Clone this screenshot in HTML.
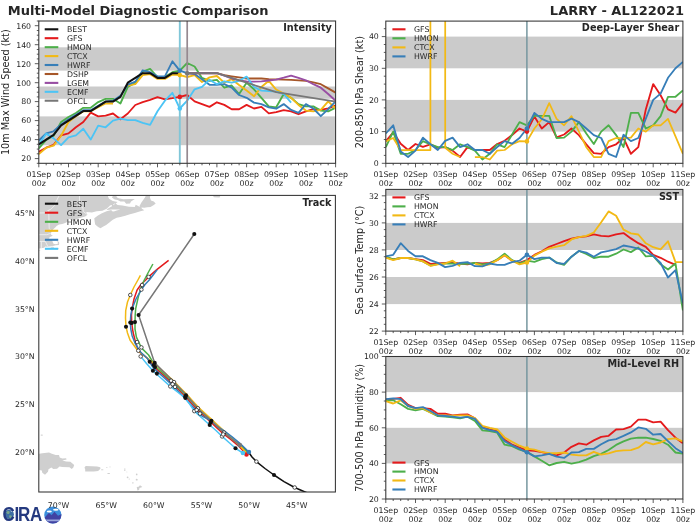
<!DOCTYPE html>
<html lang="en"><head><meta charset="utf-8"><title>Multi-Model Diagnostic Comparison - LARRY AL122021</title>
<style>html,body{margin:0;padding:0;background:#fff}svg{display:block}</style></head><body>
<svg width="700" height="525" viewBox="0 0 700 525" font-family='"DejaVu Sans", "Liberation Sans", sans-serif'>
<rect width="700" height="525" fill="#fff"/>
<text x="7.8" y="14.9" font-size="13.0" font-weight="bold" fill="#262626">Multi-Model Diagnostic Comparison</text>
<text x="684" y="14.9" font-size="13.0" font-weight="bold" text-anchor="end" fill="#262626">LARRY - AL122021</text>
<clipPath id="cI"><rect x="38.8" y="21" width="296.8" height="142.3"/></clipPath>
<rect x="38.8" y="116.4" width="296.8" height="28.8" fill="#cbcbcb"/>
<rect x="38.8" y="86.5" width="296.8" height="12.3" fill="#cbcbcb"/>
<rect x="38.8" y="47.3" width="296.8" height="23.3" fill="#cbcbcb"/>
<path d="M38.8 151.9L46.2 147.7L53.6 144.9L61.1 135.3L68.5 133.4L75.9 127.3L83.3 122L90.7 112.7L98.2 116.3L105.6 115.6L113 113.5L120.4 119.2L127.8 113.5L135.3 105L142.7 102.1L150.1 99.9L157.5 97.1L164.9 99.3L172.4 98.2L179.8 96.9L187.2 95L194.6 101.4L202 104.2L209.5 106.9L216.9 102.3L224.3 104.9L231.7 109.2L239.1 109.2L246.6 104.9L254 108.5L261.4 106.9L268.8 113.4L276.2 112.1L283.7 110.2L291.1 111.3L298.5 114.2L305.9 111.3L313.3 109.2L320.8 109.9L328.2 108.3L335.6 105.4" fill="none" stroke="#e41a1c" stroke-width="1.85" stroke-linejoin="round" stroke-linecap="butt" clip-path="url(#cI)"/>
<path d="M38.8 148.4L46.2 139.9L53.6 135.8L61.1 122L68.5 117L75.9 113L83.3 107.8L90.7 107.8L98.2 102.1L105.6 98.8L113 98.8L120.4 103.5L127.8 86.9L135.3 82.7L142.7 71.7L150.1 68.9L157.5 77L164.9 77L172.4 72.2L179.8 70.6L187.2 63L194.6 66.5L202 77.9L209.5 80.8L216.9 79.8L224.3 87.7L231.7 85.5L239.1 94L246.6 82.7L254 89.3L261.4 97.8L268.8 106.4L276.2 107.3L283.7 94L291.1 97.8L298.5 104.1L305.9 106.4L313.3 106.4L320.8 110.6L328.2 111.3L335.6 107.7" fill="none" stroke="#4daf4a" stroke-width="1.85" stroke-linejoin="round" stroke-linecap="butt" clip-path="url(#cI)"/>
<path d="M38.8 154.1L46.2 147.7L53.6 145.6L61.1 135.8L68.5 122L75.9 116.3L83.3 111.3L90.7 111.3L98.2 107.3L105.6 103.5L113 103.5M127.8 85.5L135.3 84.2L142.7 75.1L150.1 74.1L157.5 78.9L164.9 78.9L172.4 74.5L179.8 75.1L187.2 77L194.6 75.1L202 82L209.5 77.4L216.9 76L224.3 82.7L231.7 79.2L239.1 85L246.6 90.6L254 96.3L261.4 87L268.8 80.8L276.2 89.6L283.7 93.5L291.1 97.8L298.5 104.9L305.9 110.6L313.3 111.3L320.8 109.9L328.2 101.3L335.6 108.5" fill="none" stroke="#f2b915" stroke-width="1.85" stroke-linejoin="round" stroke-linecap="butt" clip-path="url(#cI)"/>
<path d="M38.8 140.5L46.2 133.4L53.6 131.3L61.1 124.4L68.5 119.2L75.9 114.9L83.3 110.2L90.7 110.2L98.2 105.9L105.6 101.6L113 100.7L120.4 95.9L127.8 84.6L135.3 81.7L142.7 70.3L150.1 72.2L157.5 76.3L164.9 76.3L172.4 61.3L179.8 70.6L187.2 73.2L194.6 74.1L202 79.3L209.5 84.8L216.9 84.8L224.3 84.2L231.7 87.7L239.1 95L246.6 97.8L254 102.6L261.4 104.1L268.8 107.3L276.2 108.7L283.7 104.1L291.1 109.9L298.5 112.8L305.9 104.1L313.3 108.5L320.8 116.2L328.2 109.2L335.6 101.3" fill="none" stroke="#377eb8" stroke-width="1.85" stroke-linejoin="round" stroke-linecap="butt" clip-path="url(#cI)"/>
<path d="M187.2 73.2L194.6 73.2L202 73.2L209.5 73.2L216.9 73.2L224.3 75.1L231.7 76.3L239.1 77.4L246.6 78.5L254 78.5L261.4 78.5L268.8 79.1L276.2 79.4L283.7 79.6L291.1 79.8L298.5 80.3L305.9 80.8L313.3 82.3L320.8 84.2L328.2 88.4L335.6 92.7" fill="none" stroke="#a65628" stroke-width="1.85" stroke-linejoin="round" stroke-linecap="butt" clip-path="url(#cI)"/>
<path d="M187.2 73.2L194.6 73.2L202 73.2L209.5 73.2L216.9 73.2L224.3 75.6L231.7 78.5L239.1 80.3L246.6 81.3L254 81.7L261.4 81.3L268.8 80.5L276.2 79.6L283.7 77.7L291.1 75.6L298.5 77.9L305.9 80.3L313.3 84.2L320.8 87.7L328.2 94L335.6 100.7" fill="none" stroke="#984ea3" stroke-width="1.85" stroke-linejoin="round" stroke-linecap="butt" clip-path="url(#cI)"/>
<path d="M38.8 145.1L46.2 133.6L53.6 138.4L61.1 145.1L68.5 137.3L75.9 135.4L83.3 128.7L90.7 139.6L98.2 125.6L105.6 127.3L113 120.6L120.4 118.7L127.8 120.1L135.3 120.1L142.7 122.8L150.1 124.9L157.5 111.3L164.9 100.7L172.4 92.8L179.8 108.5L187.2 100.7L194.6 89.3L202 86.9L209.5 79.8L216.9 84.2L224.3 81.3L231.7 82.7L239.1 80.8L246.6 76.6L254 87L261.4 90.6L268.8 91.2L276.2 91.7L283.7 94L291.1 102.6" fill="none" stroke="#4cc4f5" stroke-width="1.85" stroke-linejoin="round" stroke-linecap="butt" clip-path="url(#cI)"/>
<path d="M38.8 144.3L46.2 139.6L53.6 134.8L61.1 125.4L68.5 120.6L75.9 115.9L83.3 111.1L90.7 111.1L98.2 106.4L105.6 101.6L113 101.6L120.4 96.9L127.8 82.7L135.3 77.9L142.7 73.2L150.1 73.2L157.5 77.9L164.9 77.9L172.4 73.2L179.8 73.2" fill="none" stroke="#111111" stroke-width="2.0" stroke-linejoin="round" stroke-linecap="butt" clip-path="url(#cI)"/>
<path d="M187.2 73.2L202 73.2L216.9 73.2L231.7 77.9L246.6 82.7L261.4 87.4L276.2 92.2L305.9 96.9L335.6 101.6" fill="none" stroke="#777777" stroke-width="1.75" stroke-linejoin="round"/>
<path d="M179.8 21V163.3" stroke="#80c6d8" stroke-width="1.9"/>
<path d="M187.2 21V163.3" stroke="#958990" stroke-width="1.7"/>
<circle cx="179.8" cy="96.9" r="2.3" fill="#e41a1c"/>
<circle cx="179.8" cy="75.1" r="2.3" fill="#f2b915"/>
<circle cx="179.8" cy="70.6" r="2.3" fill="#377eb8"/>
<circle cx="179.8" cy="108.5" r="2.3" fill="#4cc4f5"/>
<circle cx="187.2" cy="73.2" r="2.3" fill="#777777"/>
<rect x="38.8" y="21" width="296.8" height="142.3" fill="none" stroke="#333333" stroke-width="1.05"/>
<path d="M38.8 163.3v4.0M46.2 163.3v2.0M53.6 163.3v2.0M61.1 163.3v2.0M68.5 163.3v4.0M75.9 163.3v2.0M83.3 163.3v2.0M90.7 163.3v2.0M98.2 163.3v4.0M105.6 163.3v2.0M113 163.3v2.0M120.4 163.3v2.0M127.8 163.3v4.0M135.3 163.3v2.0M142.7 163.3v2.0M150.1 163.3v2.0M157.5 163.3v4.0M164.9 163.3v2.0M172.4 163.3v2.0M179.8 163.3v2.0M187.2 163.3v4.0M194.6 163.3v2.0M202 163.3v2.0M209.5 163.3v2.0M216.9 163.3v4.0M224.3 163.3v2.0M231.7 163.3v2.0M239.1 163.3v2.0M246.6 163.3v4.0M254 163.3v2.0M261.4 163.3v2.0M268.8 163.3v2.0M276.2 163.3v4.0M283.7 163.3v2.0M291.1 163.3v2.0M298.5 163.3v2.0M305.9 163.3v4.0M313.3 163.3v2.0M320.8 163.3v2.0M328.2 163.3v2.0M335.6 163.3v4.0M38.8 158.6h-4M38.8 139.6h-4M38.8 120.6h-4M38.8 101.6h-4M38.8 82.7h-4M38.8 63.7h-4M38.8 44.7h-4M38.8 25.7h-4M38.8 163.3h-2M38.8 153.8h-2M38.8 149.1h-2M38.8 144.3h-2M38.8 134.8h-2M38.8 130.1h-2M38.8 125.4h-2M38.8 115.9h-2M38.8 111.1h-2M38.8 106.4h-2M38.8 96.9h-2M38.8 92.2h-2M38.8 87.4h-2M38.8 77.9h-2M38.8 73.2h-2M38.8 68.4h-2M38.8 58.9h-2M38.8 54.2h-2M38.8 49.5h-2M38.8 40h-2M38.8 35.2h-2M38.8 30.5h-2M38.8 21h-2" stroke="#333333" stroke-width="0.8" fill="none"/>
<g font-size="7.8" fill="#262626">
<g text-anchor="middle">
<text x="38.8" y="176.9">01Sep</text><text x="38.8" y="186">00z</text>
<text x="68.5" y="176.9">02Sep</text><text x="68.5" y="186">00z</text>
<text x="98.2" y="176.9">03Sep</text><text x="98.2" y="186">00z</text>
<text x="127.8" y="176.9">04Sep</text><text x="127.8" y="186">00z</text>
<text x="157.5" y="176.9">05Sep</text><text x="157.5" y="186">00z</text>
<text x="187.2" y="176.9">06Sep</text><text x="187.2" y="186">00z</text>
<text x="216.9" y="176.9">07Sep</text><text x="216.9" y="186">00z</text>
<text x="246.6" y="176.9">08Sep</text><text x="246.6" y="186">00z</text>
<text x="276.2" y="176.9">09Sep</text><text x="276.2" y="186">00z</text>
<text x="305.9" y="176.9">10Sep</text><text x="305.9" y="186">00z</text>
<text x="335.6" y="176.9">11Sep</text><text x="335.6" y="186">00z</text>
</g>
<g text-anchor="end">
<text x="31.1" y="161.4">20</text>
<text x="31.1" y="142.4">40</text>
<text x="31.1" y="123.4">60</text>
<text x="31.1" y="104.4">80</text>
<text x="31.1" y="85.5">100</text>
<text x="31.1" y="66.5">120</text>
<text x="31.1" y="47.5">140</text>
<text x="31.1" y="28.5">160</text>
</g></g>
<text transform="translate(8.7 92.2) rotate(-90)" text-anchor="middle" font-size="9.7" fill="#262626">10m Max Wind Speed (kt)</text>
<text x="331.9" y="31.2" text-anchor="end" font-size="9.7" font-weight="bold" fill="#262626">Intensity</text>
<g font-size="7.8" fill="#262626">
<path d="M44.7 29.3H58.3" stroke="#111111" stroke-width="2.1"/>
<text x="67" y="32.1">BEST</text>
<path d="M44.7 38.2H58.3" stroke="#e41a1c" stroke-width="2.1"/>
<text x="67" y="41.1">GFS</text>
<path d="M44.7 47.2H58.3" stroke="#4daf4a" stroke-width="2.1"/>
<text x="67" y="50">HMON</text>
<path d="M44.7 56.1H58.3" stroke="#f2b915" stroke-width="2.1"/>
<text x="67" y="58.9">CTCX</text>
<path d="M44.7 65H58.3" stroke="#377eb8" stroke-width="2.1"/>
<text x="67" y="67.9">HWRF</text>
<path d="M44.7 74H58.3" stroke="#a65628" stroke-width="2.1"/>
<text x="67" y="76.8">DSHP</text>
<path d="M44.7 82.9H58.3" stroke="#984ea3" stroke-width="2.1"/>
<text x="67" y="85.7">LGEM</text>
<path d="M44.7 91.8H58.3" stroke="#4cc4f5" stroke-width="2.1"/>
<text x="67" y="94.7">ECMF</text>
<path d="M44.7 100.7H58.3" stroke="#777777" stroke-width="2.1"/>
<text x="67" y="103.6">OFCL</text>
</g>
<clipPath id="cS"><rect x="385.8" y="21.1" width="297.1" height="142.2"/></clipPath>
<rect x="385.8" y="99.9" width="297.1" height="31.7" fill="#cbcbcb"/>
<rect x="385.8" y="36.6" width="297.1" height="31.7" fill="#cbcbcb"/>
<path d="M385.8 141.4L393.2 132.3L400.7 143.7L408.1 150L415.5 144L422.9 146.8L430.4 144.3L437.8 147.8L445.2 147.1L452.6 150.6L460.1 157L467.5 147.1L474.9 150L482.4 150L489.8 150L497.2 144L504.6 140.8L512.1 135.1L519.5 128.5L526.9 131.6L534.4 116.4L541.8 128.5L549.2 122.1L556.6 137.3L564.1 134.5L571.5 128.5L578.9 135.1L586.3 144.3L593.8 153.2L601.2 153.8L608.6 147.1L616.1 144.3L623.5 138L630.9 153.8L638.3 147.1L645.8 109.4L653.2 84.1L660.6 95.2L668 109.4L675.5 112.6L682.9 103.1" fill="none" stroke="#e41a1c" stroke-width="1.85" stroke-linejoin="round" stroke-linecap="butt" clip-path="url(#cS)"/>
<path d="M385.8 147.1L393.2 131.6L400.7 153.8L408.1 153.8L415.5 150L422.9 141.1L430.4 144.3L437.8 147.1L445.2 147.1L452.6 150L460.1 144.3L467.5 147.1L474.9 150.6L482.4 159.5L489.8 153.8L497.2 144.3L504.6 147.1L512.1 134.5L519.5 122.1L526.9 125.3L534.4 115.8L541.8 115.8L549.2 115.8L556.6 138L564.1 137.6L571.5 131.6L578.9 122.1L586.3 133.5L593.8 144L601.2 131.6L608.6 125.3L616.1 135.1L623.5 147.1L630.9 112.9L638.3 112.9L645.8 128.5L653.2 125.3L660.6 116.1L668 96.8L675.5 96.8L682.9 90.4" fill="none" stroke="#4daf4a" stroke-width="1.85" stroke-linejoin="round" stroke-linecap="butt" clip-path="url(#cS)"/>
<path d="M385.8 141.4L393.2 138L400.7 150L408.1 150L415.5 150L422.9 150L430.4 150V16.1M445.2 16.1L445.2 147.8L452.6 153.8L460.1 157M474.9 157L482.4 157L489.8 159.5L497.2 150.6L504.6 150L512.1 144.3L519.5 141.1L526.9 141.4L534.4 128.5L541.8 119.3L549.2 103.1L556.6 118.9L564.1 125.3L571.5 116.1L578.9 131.6L586.3 147.1L593.8 157L601.2 157L608.6 141.1L616.1 138L623.5 138L630.9 137.6L638.3 128.5L645.8 131.6L653.2 125.3L660.6 125.3L668 118.9L675.5 136.4L682.9 153.8" fill="none" stroke="#f2b915" stroke-width="1.75" stroke-linejoin="round" clip-path="url(#cS)"/>
<path d="M385.8 133.5L393.2 125.3L400.7 151.6L408.1 157L415.5 150.6L422.9 137.6L430.4 144.3L437.8 150L445.2 140.8L452.6 137.6L460.1 147.1L467.5 144.3L474.9 150L482.4 150L489.8 153.8L497.2 147.1L504.6 141.1L512.1 143.7L519.5 138L526.9 128.5L534.4 112.9L541.8 118.9L549.2 122.1L556.6 122.1L564.1 122.1L571.5 118.6L578.9 122.1L586.3 128.5L593.8 135.1L601.2 138L608.6 153.8L616.1 157L623.5 134.8L630.9 141.1L638.3 138L645.8 118.6L653.2 99.9L660.6 93.6L668 77.8L675.5 68.3L682.9 61.9" fill="none" stroke="#377eb8" stroke-width="1.85" stroke-linejoin="round" stroke-linecap="butt" clip-path="url(#cS)"/>
<path d="M526.9 21.1V163.3" stroke="#76979f" stroke-width="1.5"/>
<circle cx="526.9" cy="131.6" r="2.3" fill="#e41a1c"/>
<circle cx="526.9" cy="141.4" r="2.3" fill="#f2b915"/>
<circle cx="526.9" cy="128.5" r="2.3" fill="#377eb8"/>
<rect x="385.8" y="21.1" width="297.1" height="142.2" fill="none" stroke="#333333" stroke-width="1.05"/>
<path d="M385.8 163.3v4.0M393.2 163.3v2.0M400.7 163.3v2.0M408.1 163.3v2.0M415.5 163.3v4.0M422.9 163.3v2.0M430.4 163.3v2.0M437.8 163.3v2.0M445.2 163.3v4.0M452.6 163.3v2.0M460.1 163.3v2.0M467.5 163.3v2.0M474.9 163.3v4.0M482.4 163.3v2.0M489.8 163.3v2.0M497.2 163.3v2.0M504.6 163.3v4.0M512.1 163.3v2.0M519.5 163.3v2.0M526.9 163.3v2.0M534.4 163.3v4.0M541.8 163.3v2.0M549.2 163.3v2.0M556.6 163.3v2.0M564.1 163.3v4.0M571.5 163.3v2.0M578.9 163.3v2.0M586.3 163.3v2.0M593.8 163.3v4.0M601.2 163.3v2.0M608.6 163.3v2.0M616.1 163.3v2.0M623.5 163.3v4.0M630.9 163.3v2.0M638.3 163.3v2.0M645.8 163.3v2.0M653.2 163.3v4.0M660.6 163.3v2.0M668 163.3v2.0M675.5 163.3v2.0M682.9 163.3v4.0M385.8 163.3h-4M385.8 131.6h-4M385.8 99.9h-4M385.8 68.3h-4M385.8 36.6h-4M385.8 155.4h-2M385.8 147.5h-2M385.8 139.5h-2M385.8 123.7h-2M385.8 115.8h-2M385.8 107.9h-2M385.8 92h-2M385.8 84.1h-2M385.8 76.2h-2M385.8 60.3h-2M385.8 52.4h-2M385.8 44.5h-2M385.8 28.7h-2" stroke="#333333" stroke-width="0.8" fill="none"/>
<g font-size="7.8" fill="#262626">
<g text-anchor="middle">
<text x="385.8" y="176.9">01Sep</text><text x="385.8" y="186">00z</text>
<text x="415.5" y="176.9">02Sep</text><text x="415.5" y="186">00z</text>
<text x="445.2" y="176.9">03Sep</text><text x="445.2" y="186">00z</text>
<text x="474.9" y="176.9">04Sep</text><text x="474.9" y="186">00z</text>
<text x="504.6" y="176.9">05Sep</text><text x="504.6" y="186">00z</text>
<text x="534.4" y="176.9">06Sep</text><text x="534.4" y="186">00z</text>
<text x="564.1" y="176.9">07Sep</text><text x="564.1" y="186">00z</text>
<text x="593.8" y="176.9">08Sep</text><text x="593.8" y="186">00z</text>
<text x="623.5" y="176.9">09Sep</text><text x="623.5" y="186">00z</text>
<text x="653.2" y="176.9">10Sep</text><text x="653.2" y="186">00z</text>
<text x="682.9" y="176.9">11Sep</text><text x="682.9" y="186">00z</text>
</g>
<g text-anchor="end">
<text x="378.8" y="166.1">0</text>
<text x="378.8" y="134.4">10</text>
<text x="378.8" y="102.7">20</text>
<text x="378.8" y="71.1">30</text>
<text x="378.8" y="39.4">40</text>
</g></g>
<text transform="translate(362.5 92.2) rotate(-90)" text-anchor="middle" font-size="9.7" fill="#262626">200-850 hPa Shear (kt)</text>
<text x="679.2" y="31.3" text-anchor="end" font-size="9.7" font-weight="bold" fill="#262626">Deep-Layer Shear</text>
<g font-size="7.8" fill="#262626">
<path d="M392.4 29.3H405.5" stroke="#e41a1c" stroke-width="2.1"/>
<text x="414" y="32.1">GFS</text>
<path d="M392.4 38.3H405.5" stroke="#4daf4a" stroke-width="2.1"/>
<text x="414" y="41.2">HMON</text>
<path d="M392.4 47.4H405.5" stroke="#f2b915" stroke-width="2.1"/>
<text x="414" y="50.2">CTCX</text>
<path d="M392.4 56.4H405.5" stroke="#377eb8" stroke-width="2.1"/>
<text x="414" y="59.2">HWRF</text>
</g>
<clipPath id="cT"><rect x="385.8" y="189.4" width="297.1" height="141.7"/></clipPath>
<rect x="385.8" y="277" width="297.1" height="27.1" fill="#cbcbcb"/>
<rect x="385.8" y="222.9" width="297.1" height="27.1" fill="#cbcbcb"/>
<rect x="385.8" y="189.4" width="297.1" height="6.4" fill="#cbcbcb"/>
<path d="M385.8 257.4L393.2 259.4L400.7 258L408.1 258L415.5 259.1L422.9 260.1L430.4 263.9L437.8 263.5L445.2 262.9L452.6 262.5L460.1 263.6L467.5 264.3L474.9 262.9L482.4 263.3L489.8 262.9L497.2 260.1L504.6 255.3L512.1 260.7L519.5 262.9L526.9 260.1L534.4 254.9L541.8 251.3L549.2 246.9L556.6 244L564.1 241.1L571.5 238.7L578.9 237.2L586.3 236.3L593.8 234.4L601.2 235.8L608.6 236.4L616.1 234.4L623.5 233.1L630.9 238.4L638.3 243.2L645.8 246.8L653.2 254.9L660.6 257.8L668 261.7L675.5 264.8" fill="none" stroke="#e41a1c" stroke-width="1.85" stroke-linejoin="round" stroke-linecap="butt" clip-path="url(#cT)"/>
<path d="M385.8 256.7L393.2 259.4L400.7 258L408.1 258L415.5 259.4L422.9 261.4L430.4 265.5L437.8 264.1L445.2 263.5L452.6 263.5L460.1 263.9L467.5 263.9L474.9 262.9L482.4 264.3L489.8 263.5L497.2 259.4L504.6 253.7L512.1 260.1L519.5 263.5L526.9 260.7L534.4 261.8L541.8 259.1L549.2 257.6L556.6 262.5L564.1 264.8L571.5 256.7L578.9 250.9L586.3 254L593.8 258L601.2 256.7L608.6 256.7L616.1 253.7L623.5 249.5L630.9 252.1L638.3 247.5L645.8 256.3L653.2 255.9L660.6 264.3L668 269.5L675.5 263.6L682.9 310.4" fill="none" stroke="#4daf4a" stroke-width="1.85" stroke-linejoin="round" stroke-linecap="butt" clip-path="url(#cT)"/>
<path d="M385.8 257.6L393.2 260.1L400.7 258L408.1 258L415.5 259.4L422.9 261.4L430.4 265.8L437.8 264.3L445.2 263.5L452.6 260.7L460.1 266.2" fill="none" stroke="#f2b915" stroke-width="1.85" stroke-linejoin="round" stroke-linecap="butt" clip-path="url(#cT)"/>
<path d="M474.9 263.5L482.4 265.8L489.8 264.3L497.2 260.1L504.6 255.3L512.1 260.7L519.5 264.3L526.9 262.5L534.4 255.6L541.8 251.7L549.2 248.3L556.6 246.7L564.1 245.2L571.5 239.4L578.9 237.2L586.3 235.8L593.8 232.5L601.2 222.2L608.6 211.4L616.1 215.7L623.5 229.6L630.9 233.3L638.3 234.5L645.8 243.3L653.2 247.2L660.6 249.4L668 241.3L675.5 262.1L682.9 262.1" fill="none" stroke="#f2b915" stroke-width="1.85" stroke-linejoin="round" stroke-linecap="butt" clip-path="url(#cT)"/>
<path d="M385.8 256.3L393.2 254.8L400.7 243.2L408.1 250.9L415.5 256.3L422.9 256.3L430.4 260.1L437.8 262.9L445.2 267.1L452.6 265.8L460.1 262.9L467.5 262.1L474.9 266.2L482.4 266.4L489.8 263.5L497.2 264.8L504.6 264.8L512.1 262.1L519.5 260.7L526.9 254.8L534.4 259.1L541.8 257.6L549.2 257.6L556.6 263L564.1 263.9L571.5 256.7L578.9 250.9L586.3 252.6L593.8 256.7L601.2 252.4L608.6 250.9L616.1 249.2L623.5 245.5L630.9 246.8L638.3 248.7L645.8 251.5L653.2 255.9L660.6 263L668 277.5L675.5 270.2L682.9 303.2" fill="none" stroke="#377eb8" stroke-width="1.85" stroke-linejoin="round" stroke-linecap="butt" clip-path="url(#cT)"/>
<path d="M526.9 189.4V331.1" stroke="#76979f" stroke-width="1.5"/>
<circle cx="526.9" cy="262.5" r="2.3" fill="#f2b915"/>
<circle cx="526.9" cy="254.8" r="2.3" fill="#377eb8"/>
<rect x="385.8" y="189.4" width="297.1" height="141.7" fill="none" stroke="#333333" stroke-width="1.05"/>
<path d="M385.8 331.1v4.0M393.2 331.1v2.0M400.7 331.1v2.0M408.1 331.1v2.0M415.5 331.1v4.0M422.9 331.1v2.0M430.4 331.1v2.0M437.8 331.1v2.0M445.2 331.1v4.0M452.6 331.1v2.0M460.1 331.1v2.0M467.5 331.1v2.0M474.9 331.1v4.0M482.4 331.1v2.0M489.8 331.1v2.0M497.2 331.1v2.0M504.6 331.1v4.0M512.1 331.1v2.0M519.5 331.1v2.0M526.9 331.1v2.0M534.4 331.1v4.0M541.8 331.1v2.0M549.2 331.1v2.0M556.6 331.1v2.0M564.1 331.1v4.0M571.5 331.1v2.0M578.9 331.1v2.0M586.3 331.1v2.0M593.8 331.1v4.0M601.2 331.1v2.0M608.6 331.1v2.0M616.1 331.1v2.0M623.5 331.1v4.0M630.9 331.1v2.0M638.3 331.1v2.0M645.8 331.1v2.0M653.2 331.1v4.0M660.6 331.1v2.0M668 331.1v2.0M675.5 331.1v2.0M682.9 331.1v4.0M385.8 331.1h-4M385.8 304h-4M385.8 277h-4M385.8 249.9h-4M385.8 222.9h-4M385.8 195.8h-4M385.8 324.3h-2M385.8 317.6h-2M385.8 310.8h-2M385.8 297.3h-2M385.8 290.5h-2M385.8 283.7h-2M385.8 270.2h-2M385.8 263.5h-2M385.8 256.7h-2M385.8 243.2h-2M385.8 236.4h-2M385.8 229.6h-2M385.8 216.1h-2M385.8 209.3h-2M385.8 202.6h-2" stroke="#333333" stroke-width="0.8" fill="none"/>
<g font-size="7.8" fill="#262626">
<g text-anchor="middle">
<text x="385.8" y="344.7">01Sep</text><text x="385.8" y="353.8">00z</text>
<text x="415.5" y="344.7">02Sep</text><text x="415.5" y="353.8">00z</text>
<text x="445.2" y="344.7">03Sep</text><text x="445.2" y="353.8">00z</text>
<text x="474.9" y="344.7">04Sep</text><text x="474.9" y="353.8">00z</text>
<text x="504.6" y="344.7">05Sep</text><text x="504.6" y="353.8">00z</text>
<text x="534.4" y="344.7">06Sep</text><text x="534.4" y="353.8">00z</text>
<text x="564.1" y="344.7">07Sep</text><text x="564.1" y="353.8">00z</text>
<text x="593.8" y="344.7">08Sep</text><text x="593.8" y="353.8">00z</text>
<text x="623.5" y="344.7">09Sep</text><text x="623.5" y="353.8">00z</text>
<text x="653.2" y="344.7">10Sep</text><text x="653.2" y="353.8">00z</text>
<text x="682.9" y="344.7">11Sep</text><text x="682.9" y="353.8">00z</text>
</g>
<g text-anchor="end">
<text x="378.8" y="333.9">22</text>
<text x="378.8" y="306.8">24</text>
<text x="378.8" y="279.8">26</text>
<text x="378.8" y="252.7">28</text>
<text x="378.8" y="225.7">30</text>
<text x="378.8" y="198.6">32</text>
</g></g>
<text transform="translate(362.5 260.2) rotate(-90)" text-anchor="middle" font-size="9.7" fill="#262626">Sea Surface Temp (°C)</text>
<text x="679.2" y="199.6" text-anchor="end" font-size="9.7" font-weight="bold" fill="#262626">SST</text>
<g font-size="7.8" fill="#262626">
<path d="M392.4 197.4H405.5" stroke="#e41a1c" stroke-width="2.1"/>
<text x="414" y="200.2">GFS</text>
<path d="M392.4 206.4H405.5" stroke="#4daf4a" stroke-width="2.1"/>
<text x="414" y="209.2">HMON</text>
<path d="M392.4 215.4H405.5" stroke="#f2b915" stroke-width="2.1"/>
<text x="414" y="218.2">CTCX</text>
<path d="M392.4 224.4H405.5" stroke="#377eb8" stroke-width="2.1"/>
<text x="414" y="227.2">HWRF</text>
</g>
<clipPath id="cR"><rect x="385.8" y="356.5" width="297.1" height="142.5"/></clipPath>
<rect x="385.8" y="427.8" width="297.1" height="35.6" fill="#cbcbcb"/>
<rect x="385.8" y="356.5" width="297.1" height="35.6" fill="#cbcbcb"/>
<path d="M385.8 399.6L393.2 398.9L400.7 397.8L408.1 404.9L415.5 408.2L422.9 408.2L430.4 408.9L437.8 413.7L445.2 413.7L452.6 415.3L460.1 414.6L467.5 414.4L474.9 418.3L482.4 426.5L489.8 429.5L497.2 431.1L504.6 439.7L512.1 444.7L519.5 447.5L526.9 450.4L534.4 450.9L541.8 452.2L549.2 453.9L556.6 455.4L564.1 452.5L571.5 446.8L578.9 443.4L586.3 444.7L593.8 440.4L601.2 436.8L608.6 435.8L616.1 429.5L623.5 429.2L630.9 426.7L638.3 419.7L645.8 419.6L653.2 422.4L660.6 421.7L668 430.2L675.5 437.7L682.9 443.2" fill="none" stroke="#e41a1c" stroke-width="1.85" stroke-linejoin="round" stroke-linecap="butt" clip-path="url(#cR)"/>
<path d="M385.8 400.3L393.2 400.3L400.7 404.2L408.1 408.9L415.5 410.3L422.9 408.9L430.4 412.4L437.8 416.2L445.2 416.7L452.6 417.4L460.1 418.3L467.5 416.7L474.9 421L482.4 430.4L489.8 431.1L497.2 432.7L504.6 444.7L512.1 446.1L519.5 449.7L526.9 451.8L534.4 456.4L541.8 460.7L549.2 465.3L556.6 463L564.1 461.8L571.5 463.6L578.9 462.1L586.3 459.6L593.8 456.1L601.2 453.9L608.6 450L616.1 444.9L623.5 441.3L630.9 438.6L638.3 437.7L645.8 437.7L653.2 439L660.6 440.8L668 444.7L675.5 452.5L682.9 453.6" fill="none" stroke="#4daf4a" stroke-width="1.85" stroke-linejoin="round" stroke-linecap="butt" clip-path="url(#cR)"/>
<path d="M385.8 401.2L393.2 403.5L400.7 400.3L408.1 406L415.5 408.9L422.9 408.2L430.4 412.4L437.8 415.1L445.2 415.3L452.6 415.6L460.1 415.3L467.5 415.3L474.9 418.1L482.4 426L489.8 427.9L497.2 429.5L504.6 437.5L512.1 441.8L519.5 445.7L526.9 448.6L534.4 449.7L541.8 451.8L549.2 453.2L556.6 453.2L564.1 452.5L571.5 454.6L578.9 455.4L586.3 455.4L593.8 451.8L601.2 454.6L608.6 453.4L616.1 451.1L623.5 450.4L630.9 450.2L638.3 447.7L645.8 442L653.2 444.3L660.6 442.5L668 439.1L675.5 438.3L682.9 441.5" fill="none" stroke="#f2b915" stroke-width="1.85" stroke-linejoin="round" stroke-linecap="butt" clip-path="url(#cR)"/>
<path d="M385.8 399.2L393.2 398.4L400.7 399.2L408.1 406L415.5 408.2L422.9 407.1L430.4 411L437.8 415.3L445.2 416L452.6 416.7L460.1 417.6L467.5 416.9L474.9 418.8L482.4 427.9L489.8 430.1L497.2 431.8L504.6 441.1L512.1 445.4L519.5 448.9L526.9 452.3L534.4 456.4L541.8 455.4L549.2 453.8L556.6 456.6L564.1 457.9L571.5 452.5L578.9 452.2L586.3 448.9L593.8 448.9L601.2 444.3L608.6 440.4L616.1 439.1L623.5 435.9L630.9 432.4L638.3 427.4L645.8 428.8L653.2 434.7L660.6 434L668 441.1L675.5 448.2L682.9 453" fill="none" stroke="#377eb8" stroke-width="1.85" stroke-linejoin="round" stroke-linecap="butt" clip-path="url(#cR)"/>
<path d="M526.9 356.5V499" stroke="#76979f" stroke-width="1.5"/>
<circle cx="526.9" cy="448.6" r="2.3" fill="#f2b915"/>
<circle cx="526.9" cy="452.3" r="2.3" fill="#377eb8"/>
<rect x="385.8" y="356.5" width="297.1" height="142.5" fill="none" stroke="#333333" stroke-width="1.05"/>
<path d="M385.8 499v4.0M393.2 499v2.0M400.7 499v2.0M408.1 499v2.0M415.5 499v4.0M422.9 499v2.0M430.4 499v2.0M437.8 499v2.0M445.2 499v4.0M452.6 499v2.0M460.1 499v2.0M467.5 499v2.0M474.9 499v4.0M482.4 499v2.0M489.8 499v2.0M497.2 499v2.0M504.6 499v4.0M512.1 499v2.0M519.5 499v2.0M526.9 499v2.0M534.4 499v4.0M541.8 499v2.0M549.2 499v2.0M556.6 499v2.0M564.1 499v4.0M571.5 499v2.0M578.9 499v2.0M586.3 499v2.0M593.8 499v4.0M601.2 499v2.0M608.6 499v2.0M616.1 499v2.0M623.5 499v4.0M630.9 499v2.0M638.3 499v2.0M645.8 499v2.0M653.2 499v4.0M660.6 499v2.0M668 499v2.0M675.5 499v2.0M682.9 499v4.0M385.8 499h-4M385.8 463.4h-4M385.8 427.8h-4M385.8 392.1h-4M385.8 356.5h-4M385.8 490.1h-2M385.8 481.2h-2M385.8 472.3h-2M385.8 454.5h-2M385.8 445.6h-2M385.8 436.7h-2M385.8 418.8h-2M385.8 409.9h-2M385.8 401h-2M385.8 383.2h-2M385.8 374.3h-2M385.8 365.4h-2" stroke="#333333" stroke-width="0.8" fill="none"/>
<g font-size="7.8" fill="#262626">
<g text-anchor="middle">
<text x="385.8" y="512.6">01Sep</text><text x="385.8" y="521.7">00z</text>
<text x="415.5" y="512.6">02Sep</text><text x="415.5" y="521.7">00z</text>
<text x="445.2" y="512.6">03Sep</text><text x="445.2" y="521.7">00z</text>
<text x="474.9" y="512.6">04Sep</text><text x="474.9" y="521.7">00z</text>
<text x="504.6" y="512.6">05Sep</text><text x="504.6" y="521.7">00z</text>
<text x="534.4" y="512.6">06Sep</text><text x="534.4" y="521.7">00z</text>
<text x="564.1" y="512.6">07Sep</text><text x="564.1" y="521.7">00z</text>
<text x="593.8" y="512.6">08Sep</text><text x="593.8" y="521.7">00z</text>
<text x="623.5" y="512.6">09Sep</text><text x="623.5" y="521.7">00z</text>
<text x="653.2" y="512.6">10Sep</text><text x="653.2" y="521.7">00z</text>
<text x="682.9" y="512.6">11Sep</text><text x="682.9" y="521.7">00z</text>
</g>
<g text-anchor="end">
<text x="378.8" y="501.8">20</text>
<text x="378.8" y="466.2">40</text>
<text x="378.8" y="430.6">60</text>
<text x="378.8" y="394.9">80</text>
<text x="378.8" y="359.3">100</text>
</g></g>
<text transform="translate(362.5 427.8) rotate(-90)" text-anchor="middle" font-size="9.7" fill="#262626">700-500 hPa Humidity (%)</text>
<text x="679.2" y="366.7" text-anchor="end" font-size="9.7" font-weight="bold" fill="#262626">Mid-Level RH</text>
<g font-size="7.8" fill="#262626">
<path d="M392.4 462.6H405.5" stroke="#e41a1c" stroke-width="2.1"/>
<text x="414" y="465.5">GFS</text>
<path d="M392.4 471.6H405.5" stroke="#4daf4a" stroke-width="2.1"/>
<text x="414" y="474.4">HMON</text>
<path d="M392.4 480.5H405.5" stroke="#f2b915" stroke-width="2.1"/>
<text x="414" y="483.4">CTCX</text>
<path d="M392.4 489.5H405.5" stroke="#377eb8" stroke-width="2.1"/>
<text x="414" y="492.3">HWRF</text>
</g>
<clipPath id="cK"><rect x="38.8" y="195.4" width="296.6" height="296.6"/></clipPath>
<g clip-path="url(#cK)">
<path d="M35.7 248.9L40.8 248.3L44.2 247.8L45.2 246.5L47.1 246.8L49 246.5L52.1 246.3L55.7 245.2L59 245L59.2 243.1L58.7 241.7L56.6 240.9L57.6 241.9L58.3 243.6L55.7 244.3L53.5 243.8L52.8 242.2L51.9 239.8L48.7 238.6L49.9 236.9L52.8 235.7L50.9 234.6L50.9 233.1L51.9 231.5L53.3 229.3L55.2 227.4L56.6 226L59 224.5L62.3 224L65.2 222.9L67.6 221.7L68.5 218.8L70 219.3L71.9 220.7L74.7 220.2L77.6 218.8L81.4 217.6L85.2 216.4L87.4 214.8L86.2 211.9L91.9 212.6L96.6 211.3L102.4 210.7L106.6 208.8L108.6 207.1L110 205.4L111.9 204.9L111.9 206.2L107.6 208.8L106.6 209.9L111.9 209.4L115.7 209.4L120.5 209.5L116.7 210.5L113.8 211.6L111.9 211.2L111.4 210L106.6 211.2L101.4 213.5L97.6 215.7L94.3 218.3L94.7 221.7L95.2 224.5L98.1 226.9L100.5 228.2L103.3 226.4L106.2 225L110 222.1L112.8 219.7L116.7 217.8L120.5 216.9L125.2 215.7L130 214.3L134.8 213.1L139.5 211.6L144.3 210.2L141.9 208.8L141.4 207.5L144.3 207.8L147.2 207.3L150.5 206.9L153.8 204.9L155.7 203.5L153.8 201.6L151 200.6L150 197.8L150.5 193L147.2 193L144.8 197.8L141.4 202.6L139.5 205.9L140 207L135.7 204.8L134.8 206.9L129 206.8L122.4 205.6L117.6 204.9L115.7 203.5L117.6 202.1L112.8 201.1L109 198.7L108.1 196.8L107.1 193L35.7 193Z" fill="#cfcfcf"/>
<path d="M111.9 197.6L113.8 194.4L115.7 194.9L117.1 197.6L118.6 198.3L123.3 199.2L130 199L134.8 199.1L131 201.6L130 203.5L126.2 203.7L124.3 201.6L120.5 201.6L117.6 200L114.7 199.5Z" fill="#cfcfcf"/>
<path d="M35.7 252.2L40.8 250.6L35.7 250.1Z" fill="#cfcfcf"/>
<path d="M50.7 247.8L53.8 247.8L54.2 247.3L52.8 246.7L50.9 247.3Z" fill="#cfcfcf"/>
<path d="M55.9 248.8L58.7 248.9L58.5 248.2L56.6 248.1Z" fill="#cfcfcf"/>
<path d="M191.9 196.1L194.8 194.9L198.6 194.4L190 194.4Z" fill="#cfcfcf"/>
<path d="M213.9 197.2L219.6 197.5L221 194.4L212 194.4Z" fill="#cfcfcf"/>
<path d="M35.7 454.5L42.3 453.2L49 452.5L51.9 453.7L55.7 455.1L59 454.9L59.7 457.4L62.3 458.5L66.1 458.2L66.6 459.5L62.3 460.4L66.1 461.4L70.4 461.8L74.2 464.9L73.3 467.6L71.7 469L69.5 467.3L62.3 466.9L59.5 466.6L57.1 468.7L53.3 469L51.4 467.6L48.5 469.3L48 471.7L45 474.7L42.3 472.8L41.8 470.6L35.7 469.3Z" fill="#cfcfcf"/>
<path d="M84.5 467.4L85.7 466.1L91.9 466.2L97.1 466.6L100.2 467.3L100.5 468.7L98.1 470.9L93.8 471.4L88.1 471.4L85.2 471.4L85.2 469.5Z" fill="#cfcfcf"/>
<ellipse cx="102.2" cy="469.7" rx="1.3" ry="0.5" fill="#cfcfcf"/>
<ellipse cx="108.7" cy="473.5" rx="1.5" ry="0.5" fill="#cfcfcf"/>
<ellipse cx="106.8" cy="467.6" rx="1" ry="0.4" fill="#cfcfcf"/>
<ellipse cx="110" cy="466.9" rx="0.8" ry="0.4" fill="#cfcfcf"/>
<ellipse cx="124.8" cy="469" rx="0.9" ry="0.5" fill="#cfcfcf"/>
<ellipse cx="124.8" cy="470.3" rx="0.7" ry="0.6" fill="#cfcfcf"/>
<ellipse cx="126.9" cy="471.9" rx="0.5" ry="0.4" fill="#cfcfcf"/>
<ellipse cx="127.6" cy="477.3" rx="0.9" ry="0.9" fill="#cfcfcf"/>
<ellipse cx="129.2" cy="479" rx="0.6" ry="0.6" fill="#cfcfcf"/>
<ellipse cx="136.7" cy="474.4" rx="0.8" ry="0.9" fill="#cfcfcf"/>
<ellipse cx="136.7" cy="479.7" rx="1.0" ry="0.9" fill="#cfcfcf"/>
<ellipse cx="132.9" cy="482.9" rx="0.6" ry="0.8" fill="#cfcfcf"/>
<ellipse cx="41.8" cy="435.1" rx="1.2" ry="0.6" fill="#cfcfcf"/>
<path d="M136.7 487.1L138.6 486.7L140 485.2L142.4 487.1L139.5 488.1L139.1 490L137.4 490.5Z" fill="#cfcfcf"/>
<path d="M87.4 214.5L83.3 211.6L82.8 207.3L79.5 206.4L79.5 193" fill="none" stroke="#fff" stroke-width="0.6"/>
<path d="M51.7 231.4L49.2 228.3L48.7 210.2L50.9 209.2L54.7 205.4L56.1 201.6L58.5 196.8L61.4 193" fill="none" stroke="#fff" stroke-width="0.6"/>
<path d="M48.7 210.2L44.2 212.9L35.7 213" fill="none" stroke="#fff" stroke-width="0.6"/>
<path d="M50.7 233.4L46.6 234.7L35.7 234.7" fill="none" stroke="#fff" stroke-width="0.6"/>
<path d="M47.8 246.5L45.4 241.5L41.4 241.5L41.4 247.9" fill="none" stroke="#fff" stroke-width="0.6"/>
<path d="M41.4 241.5L35.7 241.4" fill="none" stroke="#fff" stroke-width="0.6"/>
<path d="M113 204.9L115.2 203.5" fill="none" stroke="#fff" stroke-width="0.6"/>
</g>
<path d="M307.5 493L301 490.2L294.7 487.5L284 481.6L274 475L265 468.5L256.4 461.6L252 457L248.9 452.5L244 448.5L239.7 445.1" fill="none" stroke="#111111" stroke-width="1.5" stroke-linejoin="round" clip-path="url(#cK)"/>
<path d="M246.5 454.5L237.9 445.3L230.4 439.1L222.9 433.4L216.4 427.4L210.3 421.6L203.4 415.4L196.9 409.3L190.9 402.7L185.1 396.3L178.4 389.5L171.9 382.9L162.9 374.6L154.4 367.1L147 358L138.6 351.4L135.7 342.9L133 332L131.7 322.9L131.5 315L132.1 308.6L134 299L137.1 290L141 284.5L145.7 280L148.6 276.9L157.1 269.3L168.6 260.3" fill="none" stroke="#e41a1c" stroke-width="1.5" stroke-linejoin="round" clip-path="url(#cK)"/>
<path d="M248 452.5L238.8 444.4L231.3 438.2L223.8 432.5L217.3 426.5L211.2 420.7L204.3 414.5L197.8 408.4L191.8 401.8L186 395.4L179.3 388.6L172.8 382L163.8 373.7L155.3 366.2L148.6 355L141.4 347.9L136.4 337.1L135 329L135 322.1L135.2 315L135.7 308.6L138.5 296L142.1 285L144.3 280L148.5 272L152.9 264" fill="none" stroke="#4daf4a" stroke-width="1.5" stroke-linejoin="round" clip-path="url(#cK)"/>
<path d="M247 453.5L238.8 444.4L231.3 438.2L224.7 431.6L218.2 425.6L212.1 419.8L205.2 413.6L198.7 407.5L192.7 400.9L186.9 394.5L180.2 387.7L173.7 381.1L164.7 372.8L156.2 365.3L146 357L137.9 350.7L130 340L127.5 333L126 326.7L125.5 318L125.7 310.7L127.5 302L130.3 295L134 287L137.9 280L140.4 275.4" fill="none" stroke="#f2b915" stroke-width="1.5" stroke-linejoin="round" clip-path="url(#cK)"/>
<path d="M248.9 452L239.9 443.3L232.4 437.1L224.9 431.4L217.3 426.5L211.2 420.7L202.4 416.4L195.9 410.3L189.9 403.7L184.1 397.3L177.4 390.5L170.9 383.9L161.9 375.6L153.4 368.1L147.5 358.5L140 351.5L135 343L132.1 335.7L130.8 329L130.3 322.6L130.8 315L132.1 308.6L136 299L141.4 289.6L145 284.5L149.3 280L157.1 269.7" fill="none" stroke="#377eb8" stroke-width="1.5" stroke-linejoin="round" clip-path="url(#cK)"/>
<path d="M242.9 453L235.5 448.3L229 442.5L222.1 436.4L216 430.5L209.7 425L202 418L194.3 411.1L190 404.5L185 397.9L177.5 392L170.3 386.4L161.5 378.5L152.9 370.7L146.5 363.5L140.7 356.4" fill="none" stroke="#4cc4f5" stroke-width="1.5" stroke-linejoin="round" clip-path="url(#cK)"/>
<path d="M239.7 445.1L224 432.6L211.4 420.7L197.9 408.3L186.4 395L174 382.1L154.7 362.9L138.6 315L194.3 234" fill="none" stroke="#777777" stroke-width="1.5" stroke-linejoin="round" clip-path="url(#cK)"/>
<g fill="#111"><circle cx="274" cy="475" r="2.05"/><circle cx="235.5" cy="448.3" r="2.05"/><circle cx="211.4" cy="420.7" r="2.05"/><circle cx="209.7" cy="425" r="2.05"/><circle cx="186" cy="395.4" r="2.05"/><circle cx="185.4" cy="397.9" r="2.05"/><circle cx="149.7" cy="361.7" r="2.05"/><circle cx="154.7" cy="362.9" r="2.05"/><circle cx="155" cy="367.1" r="2.05"/><circle cx="152.9" cy="370.7" r="2.05"/><circle cx="156.9" cy="373.6" r="2.05"/><circle cx="131.7" cy="322.9" r="2.05"/><circle cx="132.1" cy="308.6" r="2.05"/><circle cx="130.3" cy="322.6" r="2.05"/><circle cx="135" cy="322.1" r="2.05"/><circle cx="126" cy="326.7" r="2.05"/><circle cx="138.6" cy="315" r="2.05"/><circle cx="194.3" cy="234" r="2.05"/><circle cx="210.6" cy="422.6" r="2.05"/><circle cx="185.2" cy="396.8" r="2.05"/><circle cx="153.6" cy="365" r="2.05"/></g>
<g fill="#fff" stroke="#111" stroke-width="0.7"><circle cx="294.7" cy="487.5" r="1.8"/><circle cx="256.4" cy="461.6" r="1.8"/><circle cx="224" cy="432.6" r="1.8"/><circle cx="222.1" cy="436.4" r="1.8"/><circle cx="197.9" cy="408.3" r="1.8"/><circle cx="194.3" cy="411.1" r="1.8"/><circle cx="200" cy="413.6" r="1.8"/><circle cx="171.1" cy="380.7" r="1.8"/><circle cx="174" cy="382.1" r="1.8"/><circle cx="170.3" cy="386.4" r="1.8"/><circle cx="175" cy="386.9" r="1.8"/><circle cx="141.4" cy="347.4" r="1.8"/><circle cx="138.3" cy="350.7" r="1.8"/><circle cx="140.7" cy="356.4" r="1.8"/><circle cx="137.1" cy="342.1" r="1.8"/><circle cx="130.3" cy="295" r="1.8"/><circle cx="141.4" cy="289.6" r="1.8"/><circle cx="142.1" cy="285" r="1.8"/><circle cx="148.6" cy="276.9" r="1.8"/><circle cx="223.2" cy="434.4" r="1.8"/><circle cx="196.6" cy="410" r="1.8"/><circle cx="172.6" cy="384.2" r="1.8"/></g>
<circle cx="246.5" cy="454.5" r="2.3" fill="#e41a1c"/>
<circle cx="242.9" cy="453" r="2.3" fill="#4cc4f5"/>
<circle cx="248.9" cy="452" r="2.3" fill="#377eb8"/>
<circle cx="239.7" cy="445.1" r="2.3" fill="#777777"/>
<g>
<circle cx="9.3" cy="514.3" r="4.6" fill="#3d6ea3"/>
<path d="M6.2 512.2q1.6-1.8 3.4-0.8q0.6 1.6-0.8 2.6q-1.6 0.4-2.6-1.8zM9.2 515.4q2-0.6 2.8 0.8q-0.4 1.8-2 2q-1.2-1-0.8-2.8z" fill="#7aa58a"/>
<path d="M10.2 510.6q1.6 0.2 2.2 1.4q-1.4 0.4-2.2-1.4z" fill="#dfe8f2"/>
<text transform="scale(0.85 1)" x="2.95 17.05 21.2 35.4" y="521.3" font-family='"Liberation Sans", "DejaVu Sans", sans-serif' font-weight="bold" font-size="20" fill="#24397f">CIRA</text>
<clipPath id="cG"><circle cx="52.8" cy="515" r="8.6"/></clipPath>
<g clip-path="url(#cG)"><rect x="44" y="506" width="18" height="18" fill="#3b8edb"/><path d="M44 518.2 L49 512.8 L51.5 515.2 L54.5 511.8 L58 515.8 L62 513.8 V524 H44Z" fill="#4143a3"/><path d="M44 519.5 H62 V521.2 H44Z" fill="#9aa6dc"/><ellipse cx="49.3" cy="511.4" rx="2.6" ry="1" fill="#fff"/><ellipse cx="55.8" cy="509.8" rx="2.8" ry="1" fill="#fff"/></g>
</g>
<rect x="38.8" y="195.4" width="296.6" height="296.6" fill="none" stroke="#333333" stroke-width="1.05"/>
<g font-size="7.8" fill="#262626"><g text-anchor="end">
<text x="34.6" y="216">45°N</text>
<text x="34.6" y="263.7">40°N</text>
<text x="34.6" y="311.5">35°N</text>
<text x="34.6" y="359.2">30°N</text>
<text x="34.6" y="407">25°N</text>
<text x="34.6" y="454.7">20°N</text>
</g><g text-anchor="middle">
<text x="58.5" y="507.6">70°W</text>
<text x="106.2" y="507.6">65°W</text>
<text x="153.8" y="507.6">60°W</text>
<text x="201.5" y="507.6">55°W</text>
<text x="249.1" y="507.6">50°W</text>
<text x="296.8" y="507.6">45°W</text>
</g></g>
<text x="331.5" y="206.4" text-anchor="end" font-size="9.7" font-weight="bold" fill="#262626">Track</text>
<g font-size="7.8" fill="#262626">
<path d="M44.9 203.7H58.2" stroke="#111111" stroke-width="2.1"/>
<text x="66.8" y="206.5">BEST</text>
<path d="M44.9 212.7H58.2" stroke="#e41a1c" stroke-width="2.1"/>
<text x="66.8" y="215.6">GFS</text>
<path d="M44.9 221.8H58.2" stroke="#4daf4a" stroke-width="2.1"/>
<text x="66.8" y="224.6">HMON</text>
<path d="M44.9 230.8H58.2" stroke="#f2b915" stroke-width="2.1"/>
<text x="66.8" y="233.6">CTCX</text>
<path d="M44.9 239.8H58.2" stroke="#377eb8" stroke-width="2.1"/>
<text x="66.8" y="242.7">HWRF</text>
<path d="M44.9 248.8H58.2" stroke="#4cc4f5" stroke-width="2.1"/>
<text x="66.8" y="251.7">ECMF</text>
<path d="M44.9 257.9H58.2" stroke="#777777" stroke-width="2.1"/>
<text x="66.8" y="260.7">OFCL</text>
</g>
</svg></body></html>
